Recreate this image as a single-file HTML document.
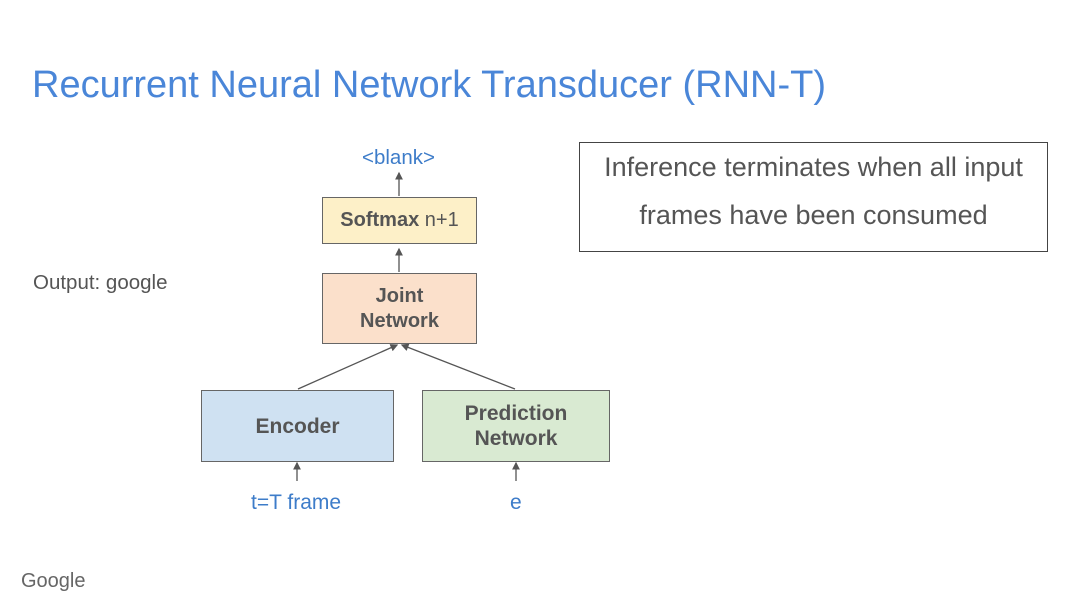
<!DOCTYPE html>
<html><head><style>
body{margin:0;width:1080px;height:607px;background:#fff;position:relative;overflow:hidden;font-family:"Liberation Sans",sans-serif}
.t{position:absolute;white-space:nowrap}
.b{position:absolute;box-sizing:border-box;border:1.5px solid #666;display:flex;align-items:center;justify-content:center;text-align:center;font-weight:bold;color:#555;font-size:20px;line-height:25px}
</style></head><body>
<div class="t" style="left:32px;top:64px;font-size:38px;color:#4a86d8">Recurrent Neural Network Transducer (RNN-T)</div>
<div class="t" style="left:33px;top:271px;font-size:20.5px;color:#555">Output: google</div>
<div class="t" style="left:362px;top:146px;font-size:20.5px;color:#3d7cc9">&lt;blank&gt;</div>
<div class="b" style="left:322px;top:197px;width:155px;height:47px;background:#fdf0c8;font-size:20px">Softmax&nbsp;<span style="font-weight:normal">n+1</span></div>
<div class="b" style="left:322px;top:273px;width:155px;height:71px;background:#fbe0cb">Joint<br>Network</div>
<div class="b" style="left:201px;top:390px;width:193px;height:72px;background:#cfe1f2;font-size:21px">Encoder</div>
<div class="b" style="left:422px;top:390px;width:188px;height:72px;background:#d9ead2;font-size:21px">Prediction<br>Network</div>
<div class="t" style="left:251px;top:491px;font-size:21px;color:#3d7cc9">t=T frame</div>
<div class="t" style="left:510px;top:491px;font-size:21px;color:#3d7cc9">e</div>
<div style="position:absolute;left:579px;top:142px;width:469px;height:110px;box-sizing:border-box;border:1.5px solid #444;text-align:center;font-size:27px;color:#555;line-height:48px;padding-top:0px">Inference terminates when all input<br>frames have been consumed</div>
<div class="t" style="left:21px;top:570px;font-size:20px;color:#666">Google</div>
<svg width="1080" height="607" style="position:absolute;left:0;top:0">
<defs><marker id="a" markerWidth="6" markerHeight="6" refX="5" refY="3" orient="auto"><path d="M0,0L6,3L0,6z" fill="#555"/></marker></defs>
<g stroke="#555" stroke-width="1.3" fill="none" marker-end="url(#a)">
<line x1="399" y1="196" x2="399" y2="173"/>
<line x1="399" y1="272" x2="399" y2="249"/>
<line x1="298" y1="389" x2="397" y2="345"/>
<line x1="515" y1="389" x2="402" y2="345"/>
<line x1="297" y1="481" x2="297" y2="463"/>
<line x1="516" y1="481" x2="516" y2="463"/>
</g></svg>
</body></html>
